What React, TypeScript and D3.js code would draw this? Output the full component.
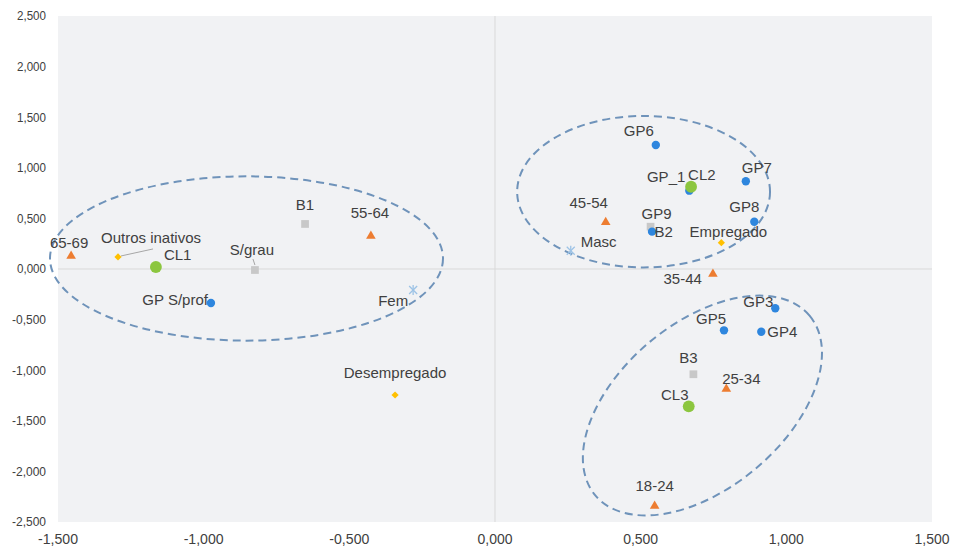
import React from 'react';
import * as d3 from 'd3';

// ---- data ----
const pointLabels = [
  '65-69', 'Outros inativos', 'CL1', 'S/grau', 'B1', '55-64', 'GP S/prof', 'Fem', 'Desempregado',
  'GP6', 'GP_1', 'CL2', 'GP7', 'GP8', '45-54', 'B2', 'GP9', 'Masc', 'Empregado', '35-44',
  'GP3', 'GP5', 'GP4', 'B3', '25-34', 'CL3', '18-24',
];
const xValues = [
  -1.455, -1.294, -1.164, -0.824, -0.652, -0.426, -0.975, -0.281, -0.343,
  0.552, 0.667, 0.673, 0.861, 0.890, 0.380, 0.534, 0.539, 0.260, 0.777, 0.748,
  0.962, 0.786, 0.914, 0.681, 0.794, 0.665, 0.548,
];
const yValues = [
  0.128, 0.119, 0.02, -0.01, 0.445, 0.326, -0.336, -0.208, -1.245,
  1.225, 0.774, 0.813, 0.867, 0.467, 0.461, 0.418, 0.369, 0.181, 0.26, -0.049,
  -0.388, -0.606, -0.62, -1.04, -1.186, -1.357, -2.342,
];
const pointGroups = [
  'age', 'emp', 'cl', 'edu', 'edu', 'age', 'gp', 'sex', 'emp',
  'gp', 'gp', 'cl', 'gp', 'gp', 'age', 'edu', 'gp', 'sex', 'emp', 'age',
  'gp', 'gp', 'gp', 'edu', 'age', 'cl', 'age',
];
// label placement: [dx, dy, anchor]
const labelPlacement: [number, number, string][] = [
  [-2, -8, 'middle'], [33, -14, 'middle'], [8, -7, 'start'], [-3, -15, 'middle'], [0, -14, 'middle'],
  [-1, -18, 'middle'], [-3, 2, 'end'], [-5, 16, 'end'], [0, -17, 'middle'],
  [-17, -9, 'middle'], [-4, -9, 'end'], [-3, -7, 'start'], [11, -8, 'middle'], [-10, -10, 'middle'],
  [-17, -14, 'middle'], [4, 10, 'start'], [4.5, -13, 'middle'], [10, -4, 'start'], [7, -6, 'middle'],
  [-11, 10, 'end'], [-2, -1, 'end'], [-13, -6, 'middle'], [6, 5, 'start'], [-5, -11, 'middle'],
  [15, -5, 'middle'], [-14, -6, 'middle'], [0, -15, 'middle'],
];
const xTicks = [-1.5, -1.0, -0.5, 0, 0.5, 1.0, 1.5];
const yTicks = [2.5, 2.0, 1.5, 1.0, 0.5, 0, -0.5, -1.0, -1.5, -2.0, -2.5];
// cluster ellipses: centre (data), semi-axes (x-data units), rotation (deg)
const ellipseCx = [-0.853, 0.51, 0.712];
const ellipseCy = [0.104, 0.764, -1.349];
const ellipseRx = [0.6745, 0.434, 0.48];
const ellipseRy = [0.282, 0.26, 0.2835];
const ellipseRot = [0, 0, -40];

const fmt = (v: number) => d3.format('.3f')(v).replace('.', ',').replace('−', '-');

const W = 957;
const H = 550;
const X0 = 58, X1 = 932, Y0 = 16, Y1 = 522;

const colors: Record<string, string> = {
  gp: '#2e86de',
  cl: '#8cc63f',
  age: '#ed7d31',
  edu: '#c8c8c8',
  emp: '#ffc000',
  sex: '#9dc3e6',
};

export default function App() {
  const x = d3.scaleLinear().domain([-1.5, 1.5]).range([X0, X1]);
  const y = d3.scaleLinear().domain([-2.5, 2.5]).range([Y1, Y0]);
  const pxPerX = (X1 - X0) / 3;

  const sym = (g: string) => {
    switch (g) {
      case 'gp': return d3.symbol(d3.symbolCircle, 55)();
      case 'cl': return d3.symbol(d3.symbolCircle, 110)();
      case 'age': return d3.symbol(d3.symbolTriangle, 40)();
      case 'edu': return d3.symbol(d3.symbolSquare, 60)();
      case 'emp': return d3.symbol(d3.symbolSquare, 26)();
      default: return '';
    }
  };

  const order = d3.range(pointLabels.length).sort((a, b) => {
    const rank = (g: string) => ({ sex: 0, edu: 1, gp: 2, age: 3, emp: 4, cl: 5 } as any)[g];
    return rank(pointGroups[a]) - rank(pointGroups[b]);
  });

  const iOutros = pointLabels.indexOf('Outros inativos');
  const iSgrau = pointLabels.indexOf('S/grau');

  return (
    <svg width={W} height={H} style={{ position: 'absolute', left: 0, top: 0, background: '#fff' }}
      fontFamily="'Liberation Sans', Arial, sans-serif">
      <rect x={X0} y={Y0} width={X1 - X0} height={Y1 - Y0} fill="#f1f2f4" />
      {/* zero lines */}
      <line x1={x(0)} x2={x(0)} y1={Y0} y2={Y1} stroke="#d9d9d9" strokeWidth={1} />
      <line x1={X0} x2={X1} y1={y(0)} y2={y(0)} stroke="#d9d9d9" strokeWidth={1} />

      {/* y tick labels */}
      {yTicks.map((t) => (
        <text key={'y' + t} x={X0 - 12} y={y(t)} dy="0.35em" textAnchor="end" fontSize={12.5} fill="#404040"
          textLength={t < 0 ? 34 : 29} lengthAdjust="spacingAndGlyphs">
          {fmt(t)}
        </text>
      ))}
      {/* x tick labels */}
      {xTicks.map((t) => (
        <text key={'x' + t} x={x(t)} y={544} textAnchor="middle" fontSize={15} fill="#404040"
          textLength={t < 0 ? 40 : 35} lengthAdjust="spacingAndGlyphs">
          {fmt(t)}
        </text>
      ))}

      {/* ellipses */}
      {ellipseCx.map((cx, i) => (
        <ellipse key={'e' + i} cx={0} cy={0} rx={ellipseRx[i] * pxPerX} ry={ellipseRy[i] * pxPerX}
          transform={`translate(${x(cx)},${y(ellipseCy[i])}) rotate(${ellipseRot[i]})`}
          fill="none" stroke="#6f93ba" strokeWidth={2} strokeDasharray="8 5" />
      ))}

      {/* leader lines */}
      <line x1={x(xValues[iOutros]) + 3} y1={y(yValues[iOutros]) - 1}
        x2={x(xValues[iOutros]) + 35} y2={y(yValues[iOutros]) - 8} stroke="#a6a6a6" strokeWidth={1} />
      <line x1={x(xValues[iSgrau]) - 2} y1={y(yValues[iSgrau]) - 11}
        x2={x(xValues[iSgrau])} y2={y(yValues[iSgrau]) - 5} stroke="#a6a6a6" strokeWidth={1} />

      {/* markers */}
      {order.map((i) => {
        const g = pointGroups[i];
        const px = x(xValues[i]);
        const py = y(yValues[i]);
        if (g === 'sex') {
          return (
            <g key={'m' + i} transform={`translate(${px},${py})`} stroke={colors.sex} strokeWidth={1.3}>
              <line x1={-4} y1={-4} x2={4} y2={4} />
              <line x1={-4} y1={4} x2={4} y2={-4} />
              <line x1={0} y1={-5} x2={0} y2={5} />
            </g>
          );
        }
        const rot = g === 'emp' ? ' rotate(45)' : '';
        return <path key={'m' + i} d={sym(g) as string} transform={`translate(${px},${py})${rot}`} fill={colors[g]} />;
      })}

      {/* labels */}
      {pointLabels.map((lab, i) => {
        const [dx, dy, anchor] = labelPlacement[i];
        return (
          <text key={'l' + i} x={x(xValues[i]) + dx} y={y(yValues[i]) + dy} textAnchor={anchor}
            fontSize={15} fill="#404040">
            {lab}
          </text>
        );
      })}
    </svg>
  );
}
